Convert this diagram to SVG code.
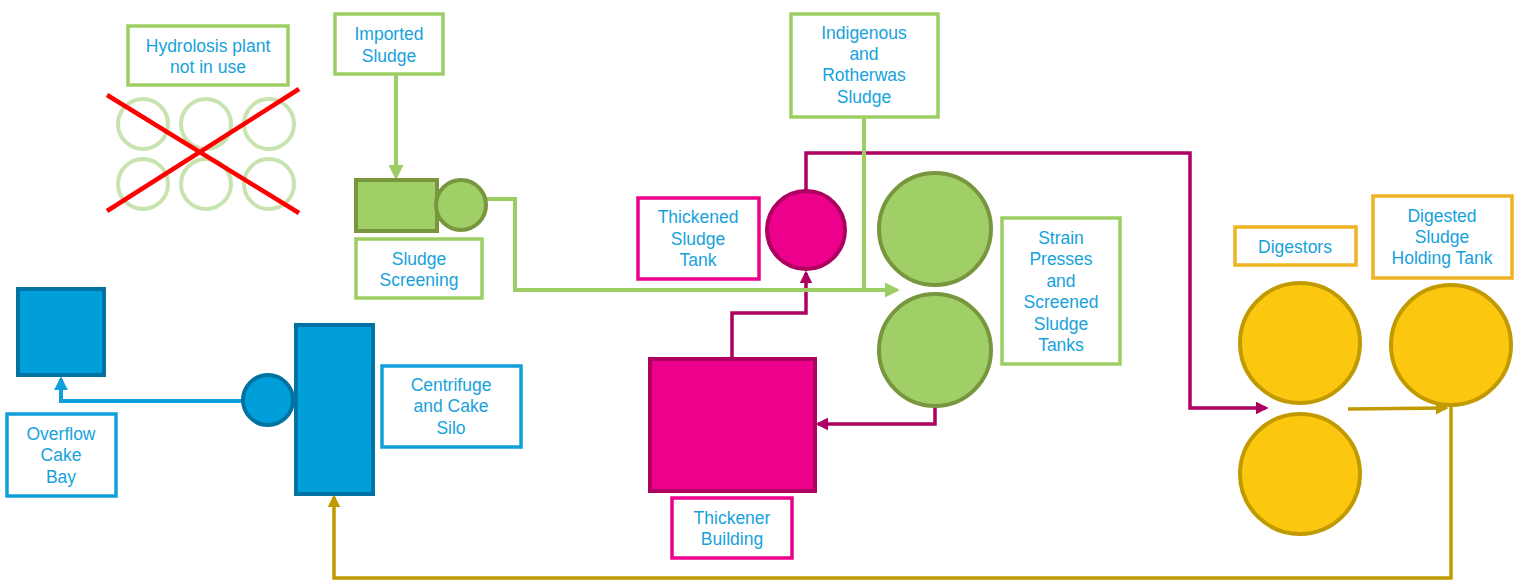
<svg xmlns="http://www.w3.org/2000/svg" width="1519" height="581" viewBox="0 0 1519 581">
<style>
text{font-family:"Liberation Sans",Arial,sans-serif;font-size:17.5px;fill:#17A2DC;text-anchor:middle}
.lbl{fill:#fff;stroke-width:3.5}
.lg{stroke:#9DCE63}
.lp{stroke:#EC008C}
.ly{stroke:#F0B323}
.lb{stroke:#0FA0DC}
.c{fill:none;stroke-width:4;stroke-linejoin:miter}
.cg{stroke:#9DCE63}
.cm{stroke:#AD0061;stroke-width:3.5}
.cy{stroke:#C19A00;stroke-width:3.5}
.cb{stroke:#0FA0DC}
.tg{fill:#A0CF67;stroke:#77963D;stroke-width:4}
.tm{fill:#EC008C;stroke:#AD0061;stroke-width:4}
.ty{fill:#FCC80F;stroke:#C19A00;stroke-width:4}
.tb{fill:#009FDA;stroke:#0073A3;stroke-width:4}
.faded{fill:none;stroke:#C8E3B0;stroke-width:4}
</style>
<defs>
<marker id="ag" viewBox="0 0 10 10" refX="8" refY="5" markerWidth="15" markerHeight="15" markerUnits="userSpaceOnUse" orient="auto"><path d="M0,0 L10,5 L0,10 z" fill="#9DCE63"/></marker>
<marker id="am" viewBox="0 0 10 10" refX="8" refY="5" markerWidth="13" markerHeight="13" markerUnits="userSpaceOnUse" orient="auto"><path d="M0,0 L10,5 L0,10 z" fill="#AD0061"/></marker>
<marker id="ay" viewBox="0 0 10 10" refX="8" refY="5" markerWidth="13" markerHeight="13" markerUnits="userSpaceOnUse" orient="auto"><path d="M0,0 L10,5 L0,10 z" fill="#C19A00"/></marker>
<marker id="ab" viewBox="0 0 10 10" refX="8" refY="5" markerWidth="14" markerHeight="14" markerUnits="userSpaceOnUse" orient="auto"><path d="M0,0 L10,5 L0,10 z" fill="#0FA0DC"/></marker>
</defs>

<g id="connectors">
<path class="c cm" d="M806,190 V153 H1190 V408 H1266" marker-end="url(#am)"/>
<path class="c cm" d="M732,358 V313 H806 V273" marker-end="url(#am)"/>
<path class="c cm" d="M935,407 V424 H818" marker-end="url(#am)"/>
<path class="c cg" d="M396,74 V177" marker-end="url(#ag)"/>
<path class="c cg" d="M487,199 H515 V290 H897" marker-end="url(#ag)"/>
<path class="c cg" d="M864,117 V290"/>
<path class="c cy" d="M1348,409 L1446,408" marker-end="url(#ay)"/>
<path class="c cy" d="M1451,406 V578 H334 V497" marker-end="url(#ay)"/>
<path class="c cb" d="M243,401 H61 V379" marker-end="url(#ab)"/>
</g>

<g id="hydrolosis-plant">
<circle class="faded" cx="143" cy="124" r="25"/>
<circle class="faded" cx="206" cy="124" r="25"/>
<circle class="faded" cx="269" cy="124" r="25"/>
<circle class="faded" cx="143" cy="184" r="25"/>
<circle class="faded" cx="206" cy="184" r="25"/>
<circle class="faded" cx="269" cy="184" r="25"/>
<line x1="107" y1="95" x2="299" y2="213" stroke="#FF0000" stroke-width="4.5"/>
<line x1="107" y1="211" x2="299" y2="89" stroke="#FF0000" stroke-width="4.5"/>
</g>
<g id="hydrolosis-label">
<rect class="lbl lg" x="128" y="26" width="160" height="59"/>
<text x="208" y="52">Hydrolosis plant</text>
<text x="208" y="73">not in use</text>
</g>

<g id="imported-sludge">
<rect class="lbl lg" x="335" y="14" width="108" height="60"/>
<text x="389" y="40">Imported</text>
<text x="389" y="62">Sludge</text>
</g>

<g id="sludge-screening">
<rect class="tg" x="356" y="180" width="81" height="51"/>
<circle class="tg" cx="461" cy="205" r="25"/>
</g>
<g id="sludge-screening-label">
<rect class="lbl lg" x="356" y="239" width="126" height="59"/>
<text x="419" y="265">Sludge</text>
<text x="419" y="286">Screening</text>
</g>

<g id="indigenous-sludge">
<rect class="lbl lg" x="791" y="14" width="147" height="103"/>
<text x="864" y="39">Indigenous</text>
<text x="864" y="60">and</text>
<text x="864" y="81">Rotherwas</text>
<text x="864" y="103">Sludge</text>
</g>

<g id="thickened-sludge-tank">
<circle class="tm" cx="806" cy="230" r="39"/>
</g>
<g id="thickened-sludge-tank-label">
<rect class="lbl lp" x="638" y="198" width="121" height="81"/>
<text x="698" y="223">Thickened</text>
<text x="698" y="245">Sludge</text>
<text x="698" y="266">Tank</text>
</g>

<g id="strain-presses">
<circle class="tg" cx="935" cy="229" r="56"/>
<circle class="tg" cx="935" cy="350" r="56"/>
</g>
<g id="strain-presses-label">
<rect class="lbl lg" x="1002" y="218" width="118" height="146"/>
<text x="1061" y="244">Strain</text>
<text x="1061" y="265">Presses</text>
<text x="1061" y="287">and</text>
<text x="1061" y="308">Screened</text>
<text x="1061" y="330">Sludge</text>
<text x="1061" y="351">Tanks</text>
</g>

<g id="thickener-building">
<rect class="tm" x="650" y="359" width="165" height="132"/>
</g>
<g id="thickener-building-label">
<rect class="lbl lp" x="672" y="498" width="120" height="60"/>
<text x="732" y="524">Thickener</text>
<text x="732" y="545">Building</text>
</g>

<g id="digestors">
<circle class="ty" cx="1300" cy="343" r="60"/>
<circle class="ty" cx="1300" cy="474" r="60"/>
</g>
<g id="digestors-label">
<rect class="lbl ly" x="1235" y="227" width="121" height="38"/>
<text x="1295" y="253">Digestors</text>
</g>

<g id="holding-tank">
<circle class="ty" cx="1451" cy="345" r="60"/>
</g>
<g id="holding-tank-label">
<rect class="lbl ly" x="1373" y="196" width="139" height="82"/>
<text x="1442" y="222">Digested</text>
<text x="1442" y="243">Sludge</text>
<text x="1442" y="264">Holding Tank</text>
</g>

<g id="overflow-cake-bay">
<rect class="tb" x="18" y="289" width="86" height="86"/>
</g>
<g id="overflow-cake-bay-label">
<rect class="lbl lb" x="7" y="414" width="109" height="82"/>
<text x="61" y="440">Overflow</text>
<text x="61" y="461">Cake</text>
<text x="61" y="483">Bay</text>
</g>

<g id="centrifuge">
<circle class="tb" cx="268" cy="400" r="25"/>
<rect class="tb" x="296" y="325" width="77" height="169"/>
</g>
<g id="centrifuge-label">
<rect class="lbl lb" x="382" y="366" width="139" height="81"/>
<text x="451" y="391">Centrifuge</text>
<text x="451" y="412">and Cake</text>
<text x="451" y="434">Silo</text>
</g>
</svg>
